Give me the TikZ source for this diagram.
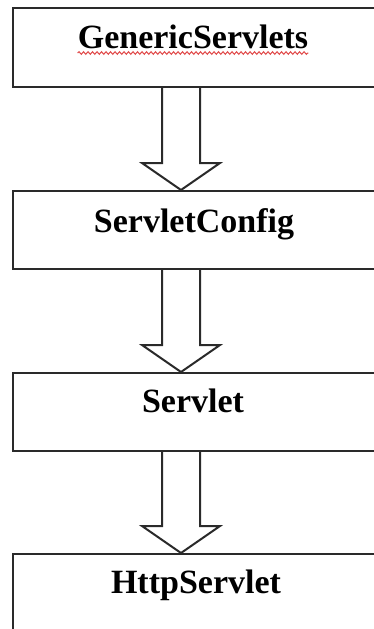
\documentclass[tikz,border=0pt]{standalone}
\usepackage{fontspec}
\setmainfont{Liberation Serif}
\usetikzlibrary{decorations.pathmorphing,calc}
\definecolor{linegray}{HTML}{2A2A2A}
\definecolor{spellred}{HTML}{E04848}
\newcommand\blockarr[2]{%
  \draw[blockarrow] ($(#1.south west)+(150,0)$) -- ($(#2.north west)+(150,-27)$)
    -- ($(#2.north west)+(130,-27)$) -- ($(#2.north west)+(169,0)$)
    -- ($(#2.north west)+(208,-27)$) -- ($(#2.north west)+(188,-27)$)
    -- ($(#1.south west)+(188,0)$);}
\begin{document}
\begin{tikzpicture}[x=1pt,y=-1pt,
  box/.style={draw=linegray,line width=2pt,rectangle,inner sep=0pt,anchor=north west,minimum width=380pt},
  lbl/.style={anchor=base,inner sep=0pt,text=black,font=\fontsize{34}{34}\selectfont\bfseries},
  blockarrow/.style={draw=linegray,line width=2pt,line join=miter}]
\useasboundingbox (0,0) rectangle (374,629);
\clip (0,0) rectangle (374,629);
\node[box,minimum height=79pt] (b1) at (12,7) {};
\node[box,minimum height=78pt] (b2) at (12,190) {};
\node[box,minimum height=78pt] (b3) at (12,372) {};
\node[box,minimum height=95pt] (b4) at (12,553) {};
\node[lbl] (t1) at (193,48) {GenericServlets};
\node[lbl] (t2) at (194,232) {ServletConfig};
\node[lbl] (t3) at (193,412) {Servlet};
\node[lbl] (t4) at (196,593) {HttpServlet};
\draw[spellred,line width=1pt,decorate,decoration={snake,amplitude=1.3pt,segment length=4.5pt}]
  ($(t1.base west)+(0,5)$) -- ($(t1.base east)+(0,5)$);
\blockarr{b1}{b2}
\blockarr{b2}{b3}
\blockarr{b3}{b4}
\end{tikzpicture}
\end{document}
